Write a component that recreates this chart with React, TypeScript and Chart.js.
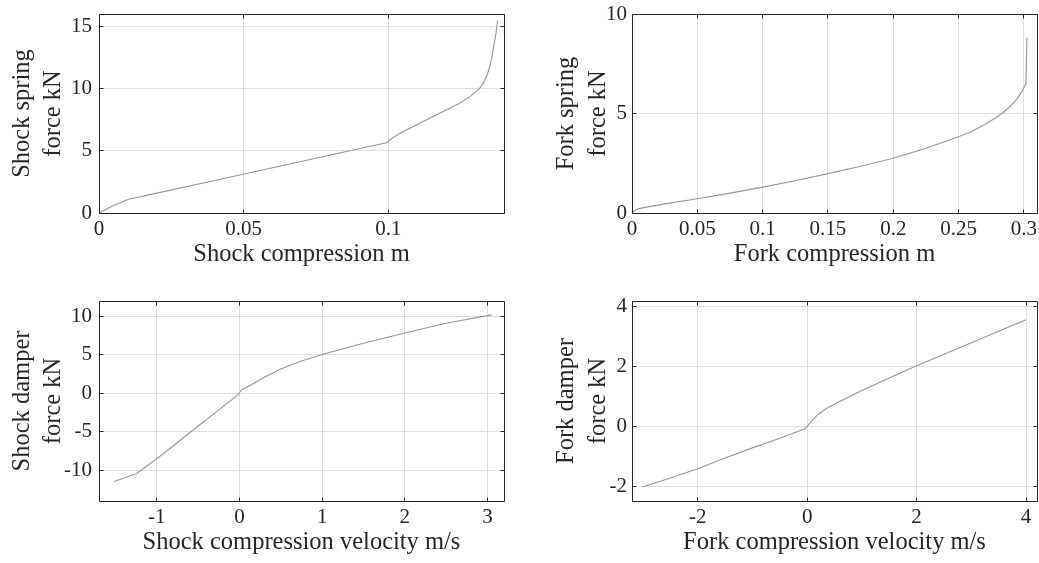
import React, { useEffect, useRef } from "react";
import { Chart, registerables } from "chart.js";

Chart.register(...registerables);

// ---------- data ----------
const shockSpringX = [0, 0.002, 0.005, 0.0102, 0.02, 0.04, 0.06, 0.08, 0.0993, 0.101, 0.1038, 0.1095, 0.1153, 0.1245, 0.1285, 0.1315, 0.133, 0.1343, 0.1352, 0.136, 0.1366, 0.1372, 0.1378];
const shockSpringY = [0, 0.25, 0.6, 1.1, 1.6, 2.62, 3.64, 4.66, 5.64, 5.95, 6.4, 7.05, 7.73, 8.8, 9.4, 10.0, 10.5, 11.2, 11.9, 12.8, 13.6, 14.4, 15.5];

const forkSpringX = [0, 0.0015, 0.005, 0.025, 0.05, 0.075, 0.1, 0.125, 0.15, 0.175, 0.2, 0.225, 0.25, 0.26, 0.27, 0.28, 0.285, 0.29, 0.295, 0.298, 0.3015, 0.3023];
const forkSpringY = [0, 0.1, 0.22, 0.46, 0.72, 1.0, 1.3, 1.62, 1.98, 2.35, 2.75, 3.25, 3.83, 4.1, 4.45, 4.85, 5.1, 5.4, 5.75, 6.05, 6.5, 8.8];

const shockDamperX = [-1.516, -1.245, -1, -0.75, -0.5, -0.25, -0.02, 0.024, 0.15, 0.3, 0.5, 0.75, 1, 1.5, 2, 2.5, 3.05];
const shockDamperY = [-11.47, -10.43, -8.5, -6.4, -4.25, -2.15, -0.2, 0.45, 1.15, 2.1, 3.15, 4.2, 5.05, 6.5, 7.84, 9.1, 10.2];

const forkDamperX = [-3.01, -2.5, -2, -1.5, -1, -0.5, -0.04, 0, 0.1, 0.2, 0.35, 0.54, 1, 1.5, 2, 2.5, 3, 3.5, 4.0];
const forkDamperY = [-2.03, -1.73, -1.42, -1.06, -0.72, -0.4, -0.08, 0.0, 0.22, 0.4, 0.6, 0.78, 1.2, 1.62, 2.03, 2.42, 2.8, 3.19, 3.57];

// ---------- ticks ----------
const shockSpringXTicks = [0, 0.05, 0.1];
const shockSpringYTicks = [0, 5, 10, 15];
const forkSpringXTicks = [0, 0.05, 0.1, 0.15, 0.2, 0.25, 0.3];
const forkSpringYTicks = [0, 5, 10];
const shockDamperXTicks = [-1, 0, 1, 2, 3];
const shockDamperYTicks = [-10, -5, 0, 5, 10];
const forkDamperXTicks = [-2, 0, 2, 4];
const forkDamperYTicks = [-2, 0, 2, 4];

// ---------- style ----------
const FONT = "'Liberation Serif', 'Times New Roman', serif";
const INK = "#262626";
const GRID = "#dfdfdf";
const LINE = "#969696";
const TICK_SIZE = 21;
const TITLE_SIZE = 24.5;

type PanelSpec = {
  xs: number[];
  ys: number[];
  xTicks: number[];
  yTicks: number[];
  xMin: number;
  xMax: number;
  yMin: number;
  yMax: number;
  xTitle: string;
  yTitle: string[];
  padding: { left: number; right: number; top: number; bottom: number };
  yAxisW: number;
  xAxisH: number;
  yTickPad: number;
  yTitlePad: number;
  xTitlePad: number;
  left: number;
  top: number;
  width: number;
  height: number;
};

const align = (v: number) => Math.round(v - 0.5) + 0.5;

const boxPlugin = {
  id: "matlabBox",
  afterDatasetsDraw(chart: any) {
    const { ctx, chartArea: a, scales } = chart;
    const L = align(a.left);
    const R = align(a.right);
    const T = align(a.top);
    const B = align(a.bottom);
    const len = 4;
    ctx.save();
    ctx.strokeStyle = INK;
    ctx.lineWidth = 1;
    ctx.beginPath();
    ctx.rect(L, T, R - L, B - T);
    ctx.stroke();
    ctx.beginPath();
    for (const t of scales.x.ticks) {
      const p = align(scales.x.getPixelForValue(t.value));
      ctx.moveTo(p, B);
      ctx.lineTo(p, B - len);
      ctx.moveTo(p, T);
      ctx.lineTo(p, T + len);
    }
    for (const t of scales.y.ticks) {
      const p = align(scales.y.getPixelForValue(t.value));
      ctx.moveTo(L, p);
      ctx.lineTo(L + len, p);
      ctx.moveTo(R, p);
      ctx.lineTo(R - len, p);
    }
    ctx.stroke();
    ctx.restore();
  },
};

function buildConfig(p: PanelSpec): any {
  return {
    type: "scatter",
    data: {
      datasets: [
        {
          data: p.xs.map((x, i) => ({ x, y: p.ys[i] })),
          showLine: true,
          borderColor: LINE,
          backgroundColor: LINE,
          borderWidth: 1.1,
          pointRadius: 0,
          pointHoverRadius: 0,
          tension: 0,
          fill: false,
        },
      ],
    },
    options: {
      animation: false,
      responsive: true,
      maintainAspectRatio: false,
      devicePixelRatio: 1,
      events: [],
      layout: { padding: p.padding },
      plugins: { legend: { display: false }, tooltip: { enabled: false } },
      scales: {
        x: {
          type: "linear",
          min: p.xMin,
          max: p.xMax,
          afterBuildTicks: (s: any) => {
            s.ticks = p.xTicks.map((v) => ({ value: v }));
          },
          afterFit: (s: any) => {
            s.height = p.xAxisH;
            s.paddingLeft = 0;
            s.paddingRight = 0;
          },
          grid: { color: GRID, lineWidth: 1, drawTicks: false },
          border: { display: false },
          ticks: {
            padding: 4,
            color: INK,
            autoSkip: false,
            maxRotation: 0,
            font: { family: FONT, size: TICK_SIZE, lineHeight: 1.2 },
            callback: (v: number) => String(v),
          },
          title: {
            display: true,
            text: p.xTitle,
            color: INK,
            font: { family: FONT, size: TITLE_SIZE, lineHeight: 1.2 },
            padding: { top: 0, bottom: p.xTitlePad },
          },
        },
        y: {
          type: "linear",
          min: p.yMin,
          max: p.yMax,
          afterBuildTicks: (s: any) => {
            s.ticks = p.yTicks.map((v) => ({ value: v }));
          },
          afterFit: (s: any) => {
            s.width = p.yAxisW;
            s.paddingTop = 0;
            s.paddingBottom = 0;
          },
          grid: { color: GRID, lineWidth: 1, drawTicks: false },
          border: { display: false },
          ticks: {
            padding: p.yTickPad,
            color: INK,
            autoSkip: false,
            font: { family: FONT, size: TICK_SIZE, lineHeight: 1.2 },
            callback: (v: number) => String(v),
          },
          title: {
            display: true,
            text: p.yTitle,
            color: INK,
            font: { family: FONT, size: TITLE_SIZE, lineHeight: 1.29 },
            padding: { top: p.yTitlePad, bottom: 0 },
          },
        },
      },
    },
    plugins: [boxPlugin],
  };
}

const panels: PanelSpec[] = [
  {
    xs: shockSpringX, ys: shockSpringY, xTicks: shockSpringXTicks, yTicks: shockSpringYTicks,
    xMin: 0, xMax: 0.14, yMin: 0, yMax: 16,
    xTitle: "Shock compression m", yTitle: ["Shock spring", "force kN"],
    padding: { left: 0, right: 15, top: 14, bottom: 0 },
    yAxisW: 99, xAxisH: 68, yTickPad: 7, yTitlePad: 6.5, xTitlePad: 11.6,
    left: 0, top: 0, width: 519, height: 281,
  },
  {
    xs: forkSpringX, ys: forkSpringY, xTicks: forkSpringXTicks, yTicks: forkSpringYTicks,
    xMin: 0, xMax: 0.31, yMin: 0, yMax: 10,
    xTitle: "Fork compression m", yTitle: ["Fork spring", "force kN"],
    padding: { left: 0, right: 2, top: 14, bottom: 0 },
    yAxisW: 112, xAxisH: 68, yTickPad: 5, yTitlePad: 31, xTitlePad: 11.6,
    left: 520, top: 0, width: 519, height: 281,
  },
  {
    xs: shockDamperX, ys: shockDamperY, xTicks: shockDamperXTicks, yTicks: shockDamperYTicks,
    xMin: -1.7, xMax: 3.2, yMin: -14, yMax: 12,
    xTitle: "Shock compression velocity m/s", yTitle: ["Shock damper", "force kN"],
    padding: { left: 0, right: 15, top: 20, bottom: 0 },
    yAxisW: 99, xAxisH: 62, yTickPad: 7, yTitlePad: 6.5, xTitlePad: 5.6,
    left: 0, top: 281, width: 519, height: 282,
  },
  {
    xs: forkDamperX, ys: forkDamperY, xTicks: forkDamperXTicks, yTicks: forkDamperYTicks,
    xMin: -3.2, xMax: 4.2, yMin: -2.5, yMax: 4.2,
    xTitle: "Fork compression velocity m/s", yTitle: ["Fork damper", "force kN"],
    padding: { left: 0, right: 2, top: 20, bottom: 0 },
    yAxisW: 112, xAxisH: 62, yTickPad: 5, yTitlePad: 31, xTitlePad: 5.6,
    left: 520, top: 281, width: 519, height: 282,
  },
];

function Panel({ spec }: { spec: PanelSpec }) {
  const ref = useRef<HTMLCanvasElement>(null);
  useEffect(() => {
    if (!ref.current) return;
    const chart = new Chart(ref.current, buildConfig(spec));
    return () => chart.destroy();
  }, [spec]);
  return (
    <div
      style={{
        position: "absolute",
        left: spec.left,
        top: spec.top,
        width: spec.width,
        height: spec.height,
      }}
    >
      <canvas ref={ref} style={{ display: "block" }} />
    </div>
  );
}

export default function App() {
  return (
    <div
      style={{
        position: "absolute",
        left: 0,
        top: 0,
        width: 1039,
        height: 563,
        background: "#ffffff",
        overflow: "hidden",
      }}
    >
      {panels.map((p, i) => (
        <Panel key={i} spec={p} />
      ))}
    </div>
  );
}
